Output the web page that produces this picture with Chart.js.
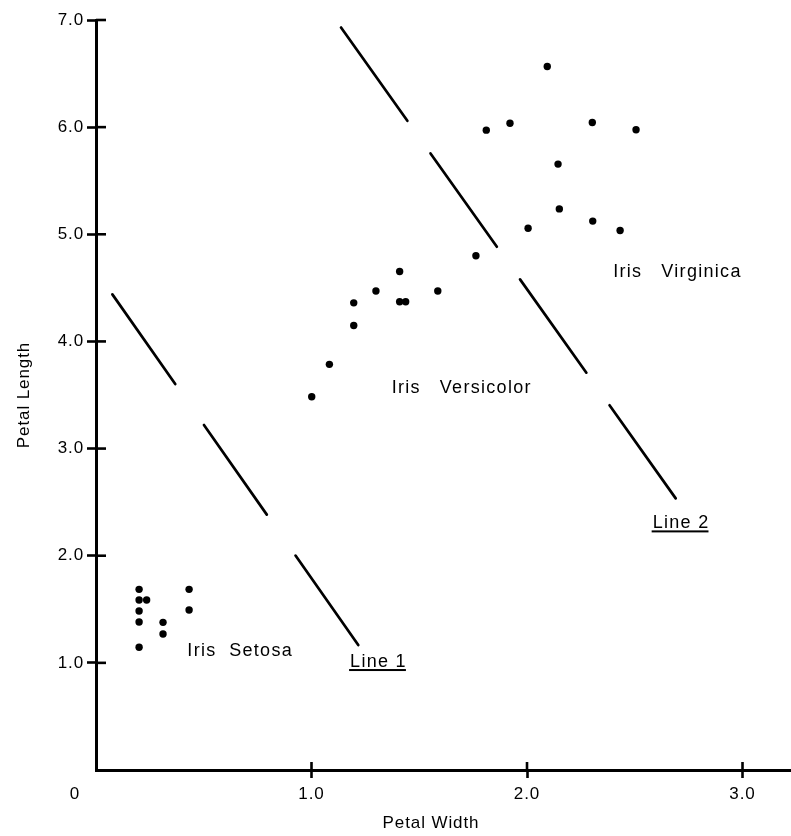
<!DOCTYPE html>
<html>
<head>
<meta charset="utf-8">
<script src="https://cdn.jsdelivr.net/npm/chart.js@4.4.1/dist/chart.umd.min.js"></script>
<style>
  html, body { margin: 0; padding: 0; background: #fff; }
  #wrap { width: 791px; height: 836px; }
</style>
</head>
<body>
<div id="wrap"><canvas id="c" width="791" height="836"></canvas></div>
<script>
// ---- Data ----
const setosaX = [0.20, 0.20, 0.235, 0.20, 0.20, 0.20, 0.311, 0.311, 0.432, 0.432];
const setosaY = [1.686, 1.586, 1.586, 1.484, 1.381, 1.145, 1.378, 1.269, 1.686, 1.493];

const versicolorX = [1.001, 1.083, 1.196, 1.196, 1.299, 1.409, 1.409, 1.437, 1.586, 1.763];
const versicolorY = [3.483, 3.786, 4.149, 4.360, 4.470, 4.653, 4.370, 4.370, 4.470, 4.799];

const virginicaX = [2.094, 1.921, 1.811, 2.303, 2.506, 2.144, 2.150, 2.005, 2.305, 2.432];
const virginicaY = [6.566, 6.037, 5.972, 6.044, 5.975, 5.655, 5.237, 5.057, 5.123, 5.036];

// separating lines (end points in data units)
const line1X = [0.076, 1.217];
const line1Y = [4.439, 1.166];
const line2X = [1.137, 2.690];
const line2Y = [6.930, 2.535];

// axis ticks
const xTickValues = [1, 2, 3];
const yTickValues = [1, 2, 3, 4, 5, 6, 7];
const xTickLabels = ['1.0', '2.0', '3.0'];
const yTickLabels = ['1.0', '2.0', '3.0', '4.0', '5.0', '6.0', '7.0'];
const originLabel = '0';

// axis titles
const xTitle = 'Petal Width';
const yTitle = 'Petal Length';

// annotation texts, anchored in data units (left, baseline)
const noteTexts = ['Iris  Setosa', 'Line 1', 'Iris   Versicolor', 'Iris   Virginica', 'Line 2'];
const noteX = [0.424, 1.179, 1.372, 2.400, 2.583];
const noteY = [1.064, 0.961, 3.522, 4.603, 2.255];
const noteUnderline = [false, true, false, false, true];

// ---- Build ----
const zip = (xs, ys) => xs.map((x, i) => ({ x: x, y: ys[i] }));
const FONT = '"Liberation Sans", Arial, Helvetica, sans-serif';
const INK = '#000';

const crossTicks = {
  id: 'crossTicks',
  beforeDraw(chart) { chart.ctx.letterSpacing = '0.9px'; },
  afterDraw(chart) {
    const ctx = chart.ctx;
    const xs = chart.scales.x, ys = chart.scales.y;
    const ca = chart.chartArea;
    ctx.save();
    ctx.strokeStyle = INK;
    ctx.lineWidth = 2.6;
    // inner halves of tick marks
    ys.ticks.forEach(t => {
      const py = ys.getPixelForValue(t.value);
      ctx.beginPath(); ctx.moveTo(ca.left, py); ctx.lineTo(ca.left + 10, py); ctx.stroke();
    });
    xs.ticks.forEach(t => {
      const px = xs.getPixelForValue(t.value);
      ctx.beginPath(); ctx.moveTo(px, ca.bottom); ctx.lineTo(px, ca.bottom - 8); ctx.stroke();
    });
    // annotation text
    ctx.letterSpacing = '1.3px';
    ctx.fillStyle = INK;
    ctx.font = '18px ' + FONT;
    ctx.textBaseline = 'alphabetic';
    ctx.textAlign = 'left';
    noteTexts.forEach((txt, i) => {
      const px = xs.getPixelForValue(noteX[i]);
      const py = ys.getPixelForValue(noteY[i]);
      ctx.fillText(txt, px, py);
      if (noteUnderline[i]) {
        const w = ctx.measureText(txt).width;
        ctx.fillRect(px - 1, py + 2, w, 2);
      }
    });
    // origin label
    ctx.letterSpacing = '0.9px';
    ctx.font = '17px ' + FONT;
    ctx.textAlign = 'center';
    ctx.textBaseline = 'middle';
    ctx.fillText(originLabel, ca.left - 21, ca.bottom + 24);
    // x title
    ctx.fillText(xTitle, 431, 823);
    ctx.restore();
  }
};

new Chart(document.getElementById('c'), {
  type: 'scatter',
  data: {
    datasets: [
      { label: 'Iris Setosa', data: zip(setosaX, setosaY), pointRadius: 3.7, pointBackgroundColor: INK, pointBorderWidth: 0 },
      { label: 'Iris Versicolor', data: zip(versicolorX, versicolorY), pointRadius: 3.7, pointBackgroundColor: INK, pointBorderWidth: 0 },
      { label: 'Iris Virginica', data: zip(virginicaX, virginicaY), pointRadius: 3.7, pointBackgroundColor: INK, pointBorderWidth: 0 },
      { type: 'line', label: 'Line 1', data: zip(line1X, line1Y), showLine: true, fill: false,
        borderColor: INK, borderWidth: 2.7, borderDash: [109.5, 50], pointRadius: 0, borderCapStyle: 'round' },
      { type: 'line', label: 'Line 2', data: zip(line2X, line2Y), showLine: true, fill: false,
        borderColor: INK, borderWidth: 2.7, borderDash: [114.5, 40], pointRadius: 0, borderCapStyle: 'round' }
    ]
  },
  options: {
    responsive: false,
    animation: false,
    devicePixelRatio: 1,
    layout: { autoPadding: false, padding: { top: 20, right: 0, left: 0, bottom: 0 } },
    plugins: { legend: { display: false }, tooltip: { enabled: false } },
    scales: {
      x: {
        type: 'linear', min: 0, max: 3.225,
        afterBuildTicks: s => { s.ticks = xTickValues.map(v => ({ value: v })); },
        afterFit: s => { s.height = 66; s.paddingRight = 0; s.paddingLeft = 0; },
        ticks: {
          callback: (v) => xTickLabels[xTickValues.indexOf(v)],
          font: { family: FONT, size: 17 }, color: INK, padding: 6, maxRotation: 0, autoSkip: false
        },
        grid: { drawOnChartArea: false, drawTicks: true, tickLength: 8, tickWidth: 2.6, tickColor: INK },
        border: { display: true, color: INK, width: 3 }
      },
      y: {
        type: 'linear', min: 0, max: 7,
        afterBuildTicks: s => { s.ticks = yTickValues.map(v => ({ value: v })); },
        afterFit: s => { s.width = 96; },
        ticks: {
          callback: (v) => yTickLabels[yTickValues.indexOf(v)],
          font: { family: FONT, size: 17 }, color: INK, padding: 3, autoSkip: false
        },
        grid: { drawOnChartArea: false, drawTicks: true, tickLength: 9, tickWidth: 2.6, tickColor: INK },
        border: { display: true, color: INK, width: 3 },
        title: { display: true, text: yTitle, font: { family: FONT, size: 17 }, color: INK, padding: { top: 14, bottom: 0 } }
      }
    }
  },
  plugins: [crossTicks]
});
</script>
</body>
</html>
